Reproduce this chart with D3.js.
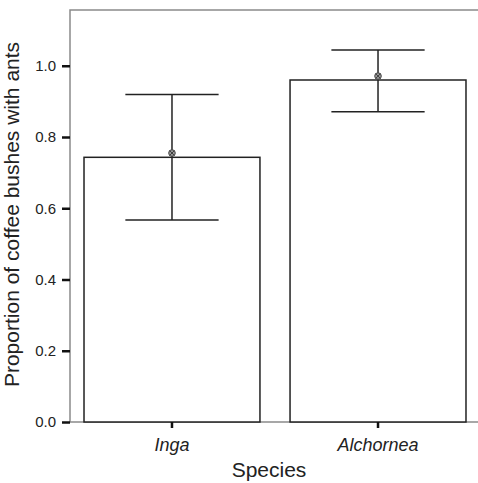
<!DOCTYPE html>
<html>
<head>
<meta charset="utf-8">
<script src="https://cdn.jsdelivr.net/npm/d3@7"></script>
<style>
  body { margin: 0; background: #fff; }
  text { font-family: "Liberation Sans", Arial, sans-serif; fill: #222; }
</style>
</head>
<body>
<div id="chart"></div>
<script>
// data
var species = ["Inga", "Alchornea"];
var proportion = [0.743, 0.960];
var pointEst = [0.755, 0.971];
var ciLow = [0.567, 0.871];
var ciHigh = [0.919, 1.044];
var yTicks = [0.0, 0.2, 0.4, 0.6, 0.8, 1.0];

var width = 478, height = 483;
var margin = { top: 10, right: -2, bottom: 61, left: 70 };
var innerW = width - margin.left - margin.right;
var innerH = height - margin.top - margin.bottom;

var svg = d3.select("#chart").append("svg")
  .attr("width", width)
  .attr("height", height);

var g = svg.append("g")
  .attr("transform", "translate(" + margin.left + "," + margin.top + ")");

var xScale = d3.scaleBand().domain(species).range([0, innerW])
  .paddingInner(0.146).paddingOuter(0.068);
var yScale = d3.scaleLinear().domain([0, 1.1565]).range([innerH, 0]);

var rows = species.map(function (s, i) {
  return { name: s, p: proportion[i], pt: pointEst[i], lo: ciLow[i], hi: ciHigh[i] };
});

// frame (top + left + bottom, grey)
g.append("path")
  .attr("d", "M" + (innerW + 5) + ",0H0V" + innerH + "H" + (innerW + 5))
  .attr("fill", "none")
  .attr("stroke", "#8a8a8a")
  .attr("stroke-width", 1.5);

// bars
g.selectAll("rect.bar").data(rows).enter().append("rect")
  .attr("class", "bar")
  .attr("x", function (d) { return xScale(d.name); })
  .attr("y", function (d) { return yScale(d.p); })
  .attr("width", xScale.bandwidth())
  .attr("height", function (d) { return innerH - yScale(d.p); })
  .attr("fill", "#fff")
  .attr("stroke", "#222")
  .attr("stroke-width", 1.5);

// error bars
var capW = xScale.bandwidth() * 0.53;
var eb = g.selectAll("g.err").data(rows).enter().append("g")
  .attr("class", "err")
  .attr("transform", function (d) { return "translate(" + (xScale(d.name) + xScale.bandwidth() / 2) + ",0)"; });

eb.append("line")
  .attr("y1", function (d) { return yScale(d.lo); })
  .attr("y2", function (d) { return yScale(d.hi); })
  .attr("stroke", "#222").attr("stroke-width", 1.5);
eb.append("line")
  .attr("x1", -capW / 2).attr("x2", capW / 2)
  .attr("y1", function (d) { return yScale(d.hi); })
  .attr("y2", function (d) { return yScale(d.hi); })
  .attr("stroke", "#222").attr("stroke-width", 1.5);
eb.append("line")
  .attr("x1", -capW / 2).attr("x2", capW / 2)
  .attr("y1", function (d) { return yScale(d.lo); })
  .attr("y2", function (d) { return yScale(d.lo); })
  .attr("stroke", "#222").attr("stroke-width", 1.5);

// point marker
eb.append("circle")
  .attr("cy", function (d) { return yScale(d.pt); })
  .attr("r", 3.3)
  .attr("fill", "#9a9a9a")
  .attr("stroke", "#444")
  .attr("stroke-width", 1);
eb.append("path")
  .attr("d", function (d) {
    var y = yScale(d.pt);
    return "M-2.3," + (y - 2.3) + "L2.3," + (y + 2.3) + "M2.3," + (y - 2.3) + "L-2.3," + (y + 2.3);
  })
  .attr("stroke", "#333").attr("stroke-width", 0.9);

// axes
var yAxis = d3.axisLeft(yScale).tickValues(yTicks).tickFormat(d3.format(".1f"))
  .tickSize(8).tickPadding(6);
var xAxis = d3.axisBottom(xScale).tickSize(6).tickPadding(10);

var yAxisG = g.append("g").attr("class", "yAxis").call(yAxis);
var xAxisG = g.append("g").attr("class", "xAxis")
  .attr("transform", "translate(0," + innerH + ")").call(xAxis);

yAxisG.select(".domain").remove();
xAxisG.select(".domain").remove();
yAxisG.selectAll(".tick line").attr("stroke", "#111").attr("stroke-width", 2.5);
xAxisG.selectAll(".tick line").attr("stroke", "#111").attr("stroke-width", 2.5);
yAxisG.selectAll(".tick text").attr("font-size", 15).attr("fill", "#333")
  .style("font-family", "'Liberation Sans', Arial, sans-serif");
xAxisG.selectAll(".tick text").attr("font-size", 18).attr("font-style", "italic")
  .attr("dy", "0.71em").attr("fill", "#222")
  .style("font-family", "'Liberation Sans', Arial, sans-serif");

// axis titles
svg.append("text")
  .attr("x", 269)
  .attr("y", 476.5)
  .attr("text-anchor", "middle")
  .attr("font-size", 21)
  .text("Species");

svg.append("text")
  .attr("transform", "translate(18.5," + (margin.top + innerH / 2 - 1.5) + ") rotate(-90)")
  .attr("text-anchor", "middle")
  .attr("font-size", 21)
  .text("Proportion of coffee bushes with ants");
</script>
</body>
</html>
